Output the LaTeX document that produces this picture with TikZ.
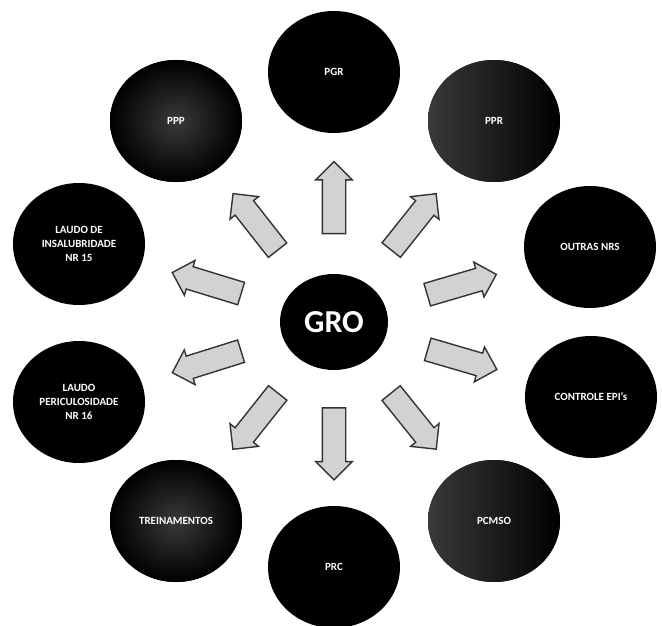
\documentclass[tikz,border=0pt]{standalone}
\usepackage{fontspec}
\setmainfont{Carlito}
\usetikzlibrary{calc}
\usetikzlibrary{shapes.geometric,shapes.arrows}
\colorlet{setafill}{gray!35}
\colorlet{setaborda}{black!80}
\colorlet{brilho}{gray!45!black}
\tikzset{
  bolha/.style={ellipse, fill=black, text=white, align=center, inner sep=0pt,
    minimum width=132pt, minimum height=122pt,
    font=\bfseries\fontsize{11}{14}\selectfont},
  seta/.style={single arrow, draw=setaborda, line width=1.4pt, fill=setafill,
    inner xsep=0pt, inner ysep=11pt, minimum height=72pt,
    single arrow head extend=6.5pt, sloped, allow upside down}
}

\begin{document}
\begin{tikzpicture}[x=1pt,y=-1pt]
                \useasboundingbox (0,0) rectangle (662,626);

                % Centre
                \node[bolha, minimum width=108pt, minimum height=96pt,
                      font=\bfseries\fontsize{32}{34}\selectfont] (gro) at (334,322) {GRO};

                % Outer circles
                \node[bolha] (pgr) at (334,72) {PGR};
                \node[bolha, left color=brilho, right color=black] (ppr) at (494,121) {PPR};
                \node[bolha] (outras) at (590,247) {OUTRAS NRS};
                \node[bolha] (epi) at (591,397) {CONTROLE EPI's};
                \node[bolha, left color=brilho, right color=black] (pcmso) at (494,521) {PCMSO};
                \node[bolha] (prc) at (334,567) {PRC};
                \node[bolha, inner color=brilho, outer color=black] (trein) at (176,521) {TREINAMENTOS};
                \node[bolha] (pericul) at (79,402) {LAUDO\\PERICULOSIDADE\\NR 16};
                \node[bolha] (insalub) at (79,244) {LAUDO DE\\INSALUBRIDADE\\NR 15};
                \node[bolha, inner color=brilho, outer color=black] (ppp) at (176,121) {PPP};

                % Arrows from GRO
                \path (gro) -- node[seta] (s-pgr) {} (pgr);
                \path (gro) -- node[seta] (s-ppr) {} (ppr);
                \path (gro) -- node[seta] (s-outras) {} (outras);
                \path (gro) -- node[seta] (s-epi) {} (epi);
                \path (gro) -- node[seta] (s-pcmso) {} (pcmso);
                \path (gro) -- node[seta] (s-prc) {} (prc);
                \path (gro) -- node[seta] (s-trein) {} (trein);
                \path (gro) -- node[seta] (s-pericul) {} (pericul);
                \path (gro) -- node[seta] (s-insalub) {} (insalub);
                \path (gro) -- node[seta] (s-ppp) {} (ppp);
            \end{tikzpicture}
\end{document}
